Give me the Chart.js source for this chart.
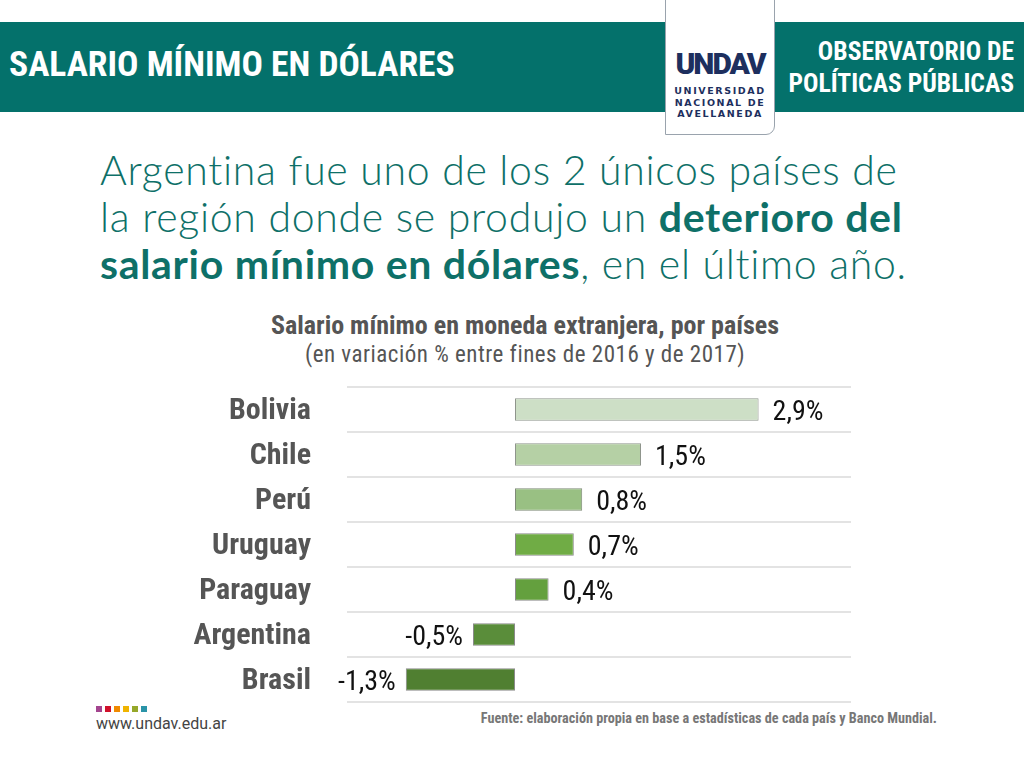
<!DOCTYPE html>
<html>
<head>
<meta charset="utf-8">
<script src="https://cdn.jsdelivr.net/npm/chart.js@4"></script>
<style>
  body { margin: 0; width: 1024px; height: 768px; background: #fff; position: relative; overflow: hidden; font-family: Roboto, sans-serif; }
  .band { position: absolute; left: 0; top: 22px; width: 1024px; height: 90px; background: #04716b; }
  .cond { font-family: 'Liberation Sans Narrow', 'Roboto Condensed', Roboto, sans-serif; }
  .htitle { position: absolute; left: 9px; top: 43px; color: #fff; font-weight: 700; font-size: 35.5px; white-space: nowrap; }
  .obs { position: absolute; right: 10px; top: 35px; color: #fff; font-weight: 700; font-size: 25.6px; line-height: 32px; text-align: right; white-space: nowrap; }
  .logo { position: absolute; left: 665px; top: -2px; width: 108px; height: 135px; background: #fff; border: 1.5px solid #9aa3ad; border-radius: 0 0 9px 0; }
  .undav { position: absolute; left: 0; width: 108px; top: 50px; text-align: center; color: #1d2f5e; font-weight: 900; font-size: 30px; letter-spacing: -2px; line-height: 30px; }
  .uni { position: absolute; left: 0; width: 108px; top: 86px; text-align: center; color: #1d2f5e; font-weight: 700; font-size: 9.5px; line-height: 11.5px; letter-spacing: 1.6px; font-family: 'DejaVu Sans', sans-serif; }
  .head { position: absolute; left: 100px; top: 146px; color: #0e7068; font-family: Lato, sans-serif; font-weight: 300; font-size: 41px; line-height: 47px; letter-spacing: 0.7px; white-space: nowrap; font-variant-ligatures: none; }
  .head b { font-weight: 700; }
  .ctitle { position: absolute; left: 0; width: 1050px; top: 310px; text-align: center; color: #555; font-weight: 700; font-size: 26px; }
  .csub { position: absolute; left: 0; width: 1050px; top: 341px; text-align: center; color: #555; font-size: 23px; letter-spacing: 0.5px; }
  .squares { position: absolute; left: 96px; top: 706px; display: flex; }
  .squares span { display: block; width: 6px; height: 6px; margin-right: 3px; }
  .web { position: absolute; left: 96px; top: 714px; color: #444; font-size: 16px; }
  .fuente { position: absolute; right: 87px; top: 710px; color: #777; font-weight: 700; font-size: 14.2px; white-space: nowrap; }
  #chart { position: absolute; left: 180px; top: 380px; }
</style>
</head>
<body>
<div class="band"></div>
<div class="htitle cond">SALARIO MÍNIMO EN DÓLARES</div>
<div class="obs cond">OBSERVATORIO DE<br>POLÍTICAS PÚBLICAS</div>
<div class="logo">
  <div class="undav">UNDAV</div>
  <div class="uni">UNIVERSIDAD<br>NACIONAL DE<br>AVELLANEDA</div>
</div>
<div class="head">Argentina fue uno de los 2 únicos países de<br>la región donde se produjo un <b>deterioro del</b><br><b>salario mínimo en dólares</b>, en el último año.</div>
<div class="ctitle cond">Salario mínimo en moneda extranjera, por países</div>
<div class="csub cond">(en variación % entre fines de 2016 y de 2017)</div>
<canvas id="chart" width="700" height="330"></canvas>
<div class="squares"><span style="background:#a3458f"></span><span style="background:#d0112b"></span><span style="background:#f08a00"></span><span style="background:#f0b400"></span><span style="background:#96a82a"></span><span style="background:#2a94a8"></span></div>
<div class="web">www.undav.edu.ar</div>
<div class="fuente cond">Fuente: elaboración propia en base a estadísticas de cada país y Banco Mundial.</div>
<script>
var paises = ["Bolivia", "Chile", "Perú", "Uruguay", "Paraguay", "Argentina", "Brasil"];
var variacion = [2.9, 1.5, 0.8, 0.7, 0.4, -0.5, -1.3];
var colores = ["#cddfc6", "#b5d0a5", "#99c083", "#70ac45", "#64a03e", "#5a8d3a", "#507f31"];
var bordes = ["#8f958c", "#8f958c", "#7f8a78", "#8a8a8a", "#8a8a8a", "#8a8a8a", "#8a8a8a"];

var condensed = "'Liberation Sans Narrow', 'Roboto Condensed', Roboto, sans-serif";

var valueLabels = {
  id: 'valueLabels',
  afterDatasetsDraw: function(chart) {
    var ctx = chart.ctx;
    var meta = chart.getDatasetMeta(0);
    ctx.save();
    ctx.font = "28px " + condensed;
    ctx.fillStyle = "#111";
    ctx.textBaseline = "middle";
    meta.data.forEach(function(bar, i) {
      var v = variacion[i];
      var txt = v.toFixed(1).replace(".", ",") + "%";
      if (v >= 0) {
        ctx.textAlign = "left";
        ctx.fillText(txt, bar.x + 14, bar.y + 3);
      } else {
        ctx.textAlign = "right";
        ctx.fillText(txt, bar.x - 10, bar.y + 3);
      }
    });
    ctx.restore();
  }
};

new Chart(document.getElementById("chart"), {
  type: 'bar',
  data: {
    labels: paises,
    datasets: [{
      data: variacion,
      backgroundColor: colores,
      borderColor: bordes,
      borderWidth: 1,
      borderSkipped: false,
      categoryPercentage: 1,
      barPercentage: 0.5
    }]
  },
  options: {
    indexAxis: 'y',
    responsive: false,
    animation: false,
    layout: { padding: { top: 7, bottom: 8, right: 29, left: 0 } },
    plugins: { legend: { display: false }, tooltip: { enabled: false } },
    scales: {
      x: { display: false, min: -2, max: 4 },
      y: {
        afterFit: function(scale) {
          scale.width = 167;
          scale.paddingTop = 0;
          scale.paddingBottom = 0;
        },
        border: { display: false },
        grid: { offset: true, color: "#e3e3e3", lineWidth: 2, drawTicks: false },
        ticks: { color: "#555", padding: 36, labelOffset: 2, font: { family: condensed, size: 30, weight: 'bold' } }
      }
    }
  },
  plugins: [valueLabels]
});
</script>
</body>
</html>
